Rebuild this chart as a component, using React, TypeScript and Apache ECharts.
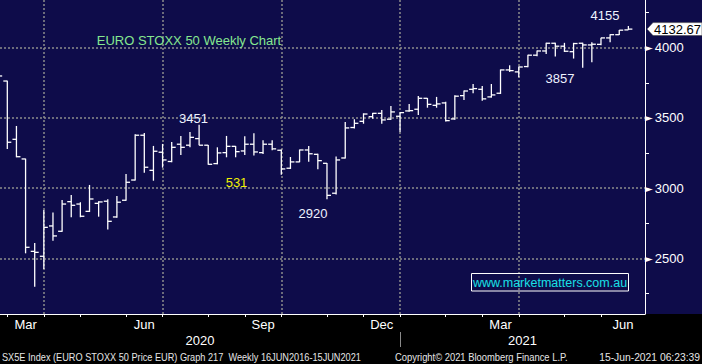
import React, { useEffect, useRef } from 'react';
import * as echarts from 'echarts';

// Weekly bars (dated on the Friday of each week)
const weekDates = [
  '2020-02-21', '2020-02-28', '2020-03-06', '2020-03-13', '2020-03-20', '2020-03-27', '2020-04-03', '2020-04-10',
  '2020-04-17', '2020-04-24', '2020-05-01', '2020-05-08', '2020-05-15', '2020-05-22', '2020-05-29', '2020-06-05',
  '2020-06-12', '2020-06-19', '2020-06-26', '2020-07-03', '2020-07-10', '2020-07-17', '2020-07-24', '2020-07-31',
  '2020-08-07', '2020-08-14', '2020-08-21', '2020-08-28', '2020-09-04', '2020-09-11', '2020-09-18', '2020-09-25',
  '2020-10-02', '2020-10-09', '2020-10-16', '2020-10-23', '2020-10-30', '2020-11-06', '2020-11-13', '2020-11-20',
  '2020-11-27', '2020-12-04', '2020-12-11', '2020-12-18', '2020-12-25', '2021-01-01', '2021-01-08', '2021-01-15',
  '2021-01-22', '2021-01-29', '2021-02-05', '2021-02-12', '2021-02-19', '2021-02-26', '2021-03-05', '2021-03-12',
  '2021-03-19', '2021-03-26', '2021-04-02', '2021-04-09', '2021-04-16', '2021-04-23', '2021-04-30', '2021-05-07',
  '2021-05-14', '2021-05-21', '2021-05-28', '2021-06-04', '2021-06-11', '2021-06-18',
];
const opens = [
  3830, 3763, 3348, 3208, 2550, 2515, 2731, 2693, 2904, 2887, 2835, 2892, 2907, 2795, 2914, 3058,
  3377, 3127, 3256, 3190, 3313, 3306, 3353, 3306, 3175, 3253, 3298, 3265, 3313, 3253, 3313, 3270,
  3142, 3187, 3272, 3241, 3177, 2964, 3215, 3432, 3476, 3509, 3533, 3491, 3512, 3550, 3562, 3640,
  3590, 3607, 3493, 3659, 3704, 3704, 3650, 3676, 3842, 3828, 3866, 3947, 3977, 4032, 4011, 3972,
  4032, 4020, 4024, 4070, 4093, 4127,
];
const highs = [
  3867, 3765, 3443, 3210, 2610, 2845, 2826, 2916, 2952, 2900, 3023, 2907, 2921, 2944, 3101, 3384,
  3393, 3301, 3315, 3329, 3372, 3400, 3451, 3308, 3291, 3372, 3300, 3370, 3391, 3341, 3341, 3275,
  3222, 3275, 3301, 3245, 3180, 3225, 3472, 3491, 3533, 3536, 3557, 3585, 3540, 3600, 3657, 3642,
  3650, 3616, 3662, 3695, 3742, 3728, 3742, 3845, 3875, 3866, 3950, 3980, 4035, 4035, 4035, 4035,
  4035, 4039, 4072, 4096, 4127, 4155,
];
const lows = [
  3780, 3279, 3220, 2536, 2298, 2424, 2626, 2690, 2793, 2793, 2830, 2797, 2705, 2790, 2910, 3055,
  3110, 3053, 3146, 3185, 3236, 3291, 3306, 3167, 3170, 3220, 3220, 3236, 3232, 3244, 3270, 3096,
  3137, 3185, 3189, 3135, 2921, 2955, 3212, 3425, 3459, 3495, 3459, 3488, 3400, 3545, 3521, 3573,
  3573, 3474, 3488, 3628, 3676, 3623, 3645, 3671, 3828, 3790, 3862, 3940, 3956, 3937, 3970, 3923,
  3857, 3897, 4018, 4039, 4090, 4127,
];
const closes = [
  3799, 3327, 3224, 2579, 2543, 2721, 2660, 2887, 2878, 2800, 2923, 2902, 2764, 2900, 3042, 3377,
  3149, 3263, 3201, 3291, 3291, 3362, 3306, 3170, 3251, 3298, 3260, 3313, 3258, 3313, 3280, 3137,
  3187, 3272, 3245, 3196, 2949, 3201, 3429, 3462, 3528, 3533, 3486, 3543, 3538, 3552, 3640, 3597,
  3600, 3481, 3655, 3692, 3709, 3636, 3664, 3842, 3837, 3863, 3947, 3977, 4032, 4011, 3975, 4030,
  4020, 4025, 4070, 4093, 4125, 4132.67,
];
const lastPrice = 4132.67;
const yLabelValues = [2500, 3000, 3500, 4000];
const yMinorTicks = [2250, 2750, 3250, 3750, 4250];
const monthNames = ['Jan', 'Feb', 'Mar', 'Apr', 'May', 'Jun', 'Jul', 'Aug', 'Sep', 'Oct', 'Nov', 'Dec'];
const labelledMonths = ['Mar', 'Jun', 'Sep', 'Dec'];
const quarterStartMonths = ['Jan', 'Apr', 'Jul', 'Oct'];

const X_MIN = -0.8;
const X_MAX = 69.82;
const Y_MIN = 2104;
const Y_MAX = 4340;

const FONT = 'Liberation Sans, Arial, sans-serif';
const NAVY = '#0e0c4a';
const GRIDC = '#8c8c8c';

// derived axis layout (from dates)
const firstIndex = -1;
const xs = weekDates.map((_, i) => i + firstIndex);
const dt = weekDates.map((s) => new Date(s + 'T00:00:00Z'));
const monthTicks: number[] = [];
const tickMonth: number[] = [];
const yearTicks: number[] = [];
for (let i = 0; i < dt.length - 1; i++) {
  if (dt[i].getUTCMonth() !== dt[i + 1].getUTCMonth()) {
    monthTicks.push(xs[i]);
    tickMonth.push(dt[i + 1].getUTCMonth());
  }
  if (dt[i].getUTCFullYear() !== dt[i + 1].getUTCFullYear()) yearTicks.push(xs[i]);
}
const monthLabels: { pos: number; text: string }[] = [];
monthTicks.forEach((t, j) => {
  const end = j + 1 < monthTicks.length ? monthTicks[j + 1] : X_MAX;
  const name = monthNames[tickMonth[j]];
  if (labelledMonths.includes(name)) monthLabels.push({ pos: (t + end) / 2, text: name });
});
const quarterLines = monthTicks.filter((_, j) => quarterStartMonths.includes(monthNames[tickMonth[j]]));
const yearBounds = [X_MIN, ...yearTicks, X_MAX];
const yearLabels: { pos: number; text: string }[] = [];
for (let j = 0; j < yearBounds.length - 1; j++) {
  yearLabels.push({
    pos: (yearBounds[j] + yearBounds[j + 1]) / 2,
    text: String(dt[0].getUTCFullYear() + j),
  });
}
const findLabel = (arr: { pos: number; text: string }[], v: number) => {
  const f = arr.find((a) => Math.abs(a.pos - v) < 1e-6);
  return f ? f.text : '';
};

const barData = xs.map((x, i) => [x, opens[i], highs[i], lows[i], closes[i]]);

export default function App() {
  const ref = useRef<HTMLDivElement>(null);
  useEffect(() => {
    if (!ref.current) return;
    const chart = echarts.init(ref.current, null, { renderer: 'svg' });
    const barStyle = { stroke: '#ffffff', lineWidth: 1.3 };
    const option: any = {
      animation: false,
      backgroundColor: NAVY,
      grid: {
        left: 0, right: 57, top: 0, bottom: 50,
        containLabel: false, outerBoundsMode: 'none',
      },
      xAxis: [
        {
          type: 'value', min: X_MIN, max: X_MAX, position: 'bottom',
          axisLine: { show: true, onZero: false, lineStyle: { color: '#ffffff', width: 1 } },
          axisTick: { show: true, customValues: monthTicks, length: 3, lineStyle: { color: '#ffffff' } },
          axisLabel: {
            show: true, customValues: monthLabels.map((m) => m.pos),
            formatter: (v: number) => findLabel(monthLabels, v),
            color: '#ffffff', fontSize: 13, fontFamily: FONT, margin: 4,
          },
          splitLine: { show: false },
        },
        {
          type: 'value', min: X_MIN, max: X_MAX, position: 'bottom', offset: 18,
          axisLine: { show: false, onZero: false },
          axisTick: { show: true, customValues: yearTicks, length: 15, lineStyle: { color: '#8a8a8a' } },
          axisLabel: {
            show: true, customValues: yearLabels.map((m) => m.pos),
            formatter: (v: number) => findLabel(yearLabels, v),
            color: '#ffffff', fontSize: 13, fontFamily: FONT, margin: 2,
          },
          splitLine: { show: false },
        },
      ],
      yAxis: [
        {
          type: 'value', min: Y_MIN, max: Y_MAX, position: 'right',
          axisLine: { show: true, onZero: false, lineStyle: { color: '#ffffff', width: 1 } },
          axisTick: { show: true, customValues: yMinorTicks, length: 4, lineStyle: { color: '#ffffff' } },
          axisLabel: {
            show: true, customValues: yLabelValues, margin: 0,
            formatter: (v: number) => `{t|►}{v|${v}}`,
            rich: {
              t: { color: '#ffffff', fontSize: 10, fontFamily: 'DejaVu Sans', verticalAlign: 'middle' },
              v: { color: '#ffffff', fontSize: 13, fontFamily: FONT, verticalAlign: 'middle', padding: [0, 0, 0, 2] },
            },
          },
          splitLine: { show: false },
        },
      ],
      series: [
        {
          type: 'custom',
          clip: true,
          z: 3,
          data: barData,
          encode: { x: 0, y: [1, 2, 3, 4] },
          renderItem: (params: any, api: any) => {
            const k = api.value(0);
            const o = api.coord([k, api.value(1)]);
            const h = api.coord([k, api.value(2)]);
            const l = api.coord([k, api.value(3)]);
            const c = api.coord([k, api.value(4)]);
            const w = 4;
            return {
              type: 'group',
              children: [
                { type: 'line', shape: { x1: h[0], y1: h[1], x2: l[0], y2: l[1] }, style: barStyle },
                { type: 'line', shape: { x1: o[0] - w, y1: o[1], x2: o[0], y2: o[1] }, style: barStyle },
                { type: 'line', shape: { x1: c[0], y1: c[1], x2: c[0] + w, y2: c[1] }, style: barStyle },
              ],
            };
          },
          markLine: {
            silent: true,
            z: 1,
            symbol: ['none', 'none'],
            label: { show: false },
            lineStyle: { color: GRIDC, type: [2, 2], width: 1.5 },
            emphasis: { disabled: true },
            data: [
              ...yLabelValues.map((v) => ({ yAxis: v })),
              ...quarterLines.map((k) => ({ xAxis: k })),
            ],
          },
        },
      ],
    };
    chart.setOption(option);

    const axisX = chart.convertToPixel({ xAxisIndex: 0 }, X_MAX) as number;
    const tagY = chart.convertToPixel({ yAxisIndex: 0 }, lastPrice) as number;
    const txt = (text: string, x: number, y: number, fill: string, size: number, align = 'center', sx = 1) => ({
      type: 'text', x, y, z: 10, scaleX: sx,
      style: { text, fill, fontSize: size, fontFamily: FONT, align, verticalAlign: 'middle' },
    });
    chart.setOption({
      graphic: [
        { type: 'rect', z: -1, shape: { x: 0, y: 314, width: 702, height: 50 }, style: { fill: '#000000' } },
        txt('EURO STOXX 50 Weekly Chart', 189, 40, '#86e890', 13),
        txt('4155', 605, 15, '#eef2ff', 13),
        txt('3857', 560, 78, '#eef2ff', 13),
        txt('3451', 193.5, 118, '#eef2ff', 13),
        txt('531', 236.5, 182, '#f2f200', 13),
        txt('2920', 313, 213, '#eef2ff', 13),
        { type: 'rect', z: 10, shape: { x: 471.5, y: 273.5, width: 157, height: 17.5 }, style: { fill: 'none', stroke: '#ffffff', lineWidth: 1 } },
        txt('www.marketmatters.com.au', 550, 282.5, '#19e0e6', 12.5),
        {
          type: 'polygon', z: 10,
          shape: { points: [[axisX + 2, tagY], [axisX + 8, tagY - 6.5], [702, tagY - 6.5], [702, tagY + 6.5], [axisX + 8, tagY + 6.5]] },
          style: { fill: '#ffffff', stroke: '#333333', lineWidth: 0.5 },
        },
        txt('4132.67', axisX + 9, tagY + 0.5, '#000000', 13, 'left'),
        txt('SX5E Index (EURO STOXX 50 Price EUR) Graph 217  Weekly 16JUN2016-15JUN2021', 2, 357, '#e6e6e6', 10.5, 'left', 0.875),
        txt('Copyright© 2021 Bloomberg Finance L.P.', 395, 357, '#e6e6e6', 10.5, 'left', 0.895),
        txt('15-Jun-2021 06:23:39', 700, 357, '#e6e6e6', 10.3, 'right'),
      ],
    });
    return () => chart.dispose();
  }, []);
  return (
    <div
      ref={ref}
      style={{ position: 'fixed', left: 0, top: 0, width: 702, height: 364 }}
    />
  );
}
